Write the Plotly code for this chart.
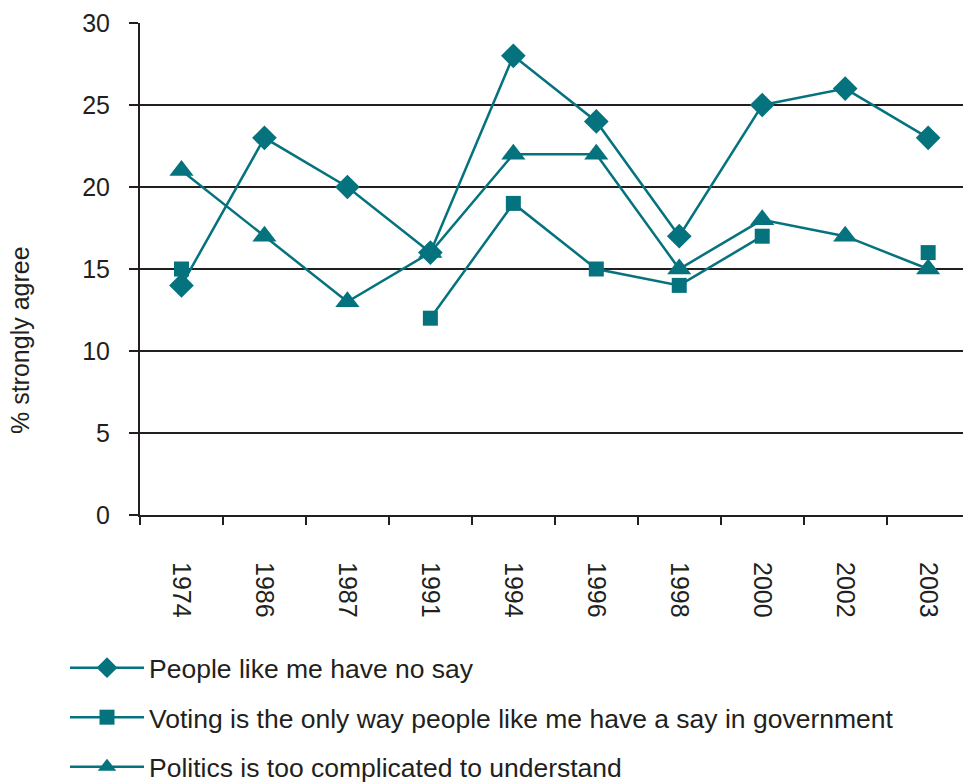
import plotly.graph_objects as go

years = ["1974", "1986", "1987", "1991", "1994", "1996", "1998", "2000", "2002", "2003"]
no_say = [14, 23, 20, 16, 28, 24, 17, 25, 26, 23]
voting_only = [15, None, None, 12, 19, 15, 14, 17, None, 16]
too_complicated = [21, 17, 13, 16, 22, 22, 15, 18, 17, 15]

series_names = [
    "People like me have no say",
    "Voting is the only way people like me have a say in government",
    "Politics is too complicated to understand",
]

TEAL = "#05737E"
INK = "#231F20"
FONT = "Liberation Sans, Arial, sans-serif"

W, H = 963, 782
ML, MR, MT, MB = 140, 0, 23, 267

fig = go.Figure()
series = [
    (no_say, "diamond", 19),
    (voting_only, "square", 15),
    (too_complicated, "triangle-up", 21),
]
for i, ((vals, sym, size), name) in enumerate(zip(series, series_names)):
    fig.add_trace(go.Scatter(
        x=years, y=vals, name=name, mode="lines+markers",
        connectgaps=False, legendgroup=str(i),
        line=dict(color=TEAL, width=2.5),
        marker=dict(symbol=sym, size=size, color=TEAL, line=dict(width=0)),
    ))

fig.update_layout(
    width=W, height=H,
    margin=dict(l=ML, r=MR, t=MT, b=MB, autoexpand=False),
    paper_bgcolor="white", plot_bgcolor="white",
    font=dict(family=FONT, size=25, color=INK),
    showlegend=True,
    legend=dict(
        x=(65 - ML) / (W - ML - MR), xanchor="left",
        y=-(644 - (H - MB)) / (H - MT - MB), yanchor="top",
        traceorder="grouped", tracegroupgap=12,
        font=dict(family=FONT, size=26.5, color=INK),
        bgcolor="rgba(0,0,0,0)", itemwidth=74,
    ),
    xaxis=dict(
        type="category", range=[-0.5, 9.42],
        showgrid=False, showline=True, linecolor=INK, linewidth=2,
        ticks="outside", tickson="boundaries", ticklen=8, tickwidth=2, tickcolor=INK,
        tickangle=90, ticklabelstandoff=40,
        tickfont=dict(family=FONT, size=25, color=INK),
    ),
    yaxis=dict(
        range=[0, 30], dtick=5, tick0=0,
        showgrid=True, gridcolor=INK, gridwidth=2,
        zeroline=False, showline=True, linecolor=INK, linewidth=2,
        ticks="outside", ticklen=9, tickwidth=2, tickcolor=INK,
        ticklabelstandoff=14,
        tickfont=dict(family=FONT, size=25, color=INK),
    ),
    annotations=[dict(
        text="% strongly agree", textangle=-90,
        xref="paper", yref="paper",
        x=(20 - ML) / (W - ML - MR), y=(H - MB - 340) / (H - MT - MB),
        xanchor="center", yanchor="middle", showarrow=False,
        font=dict(family=FONT, size=25, color=INK),
    )],
)

fig.write_html("out.html")
